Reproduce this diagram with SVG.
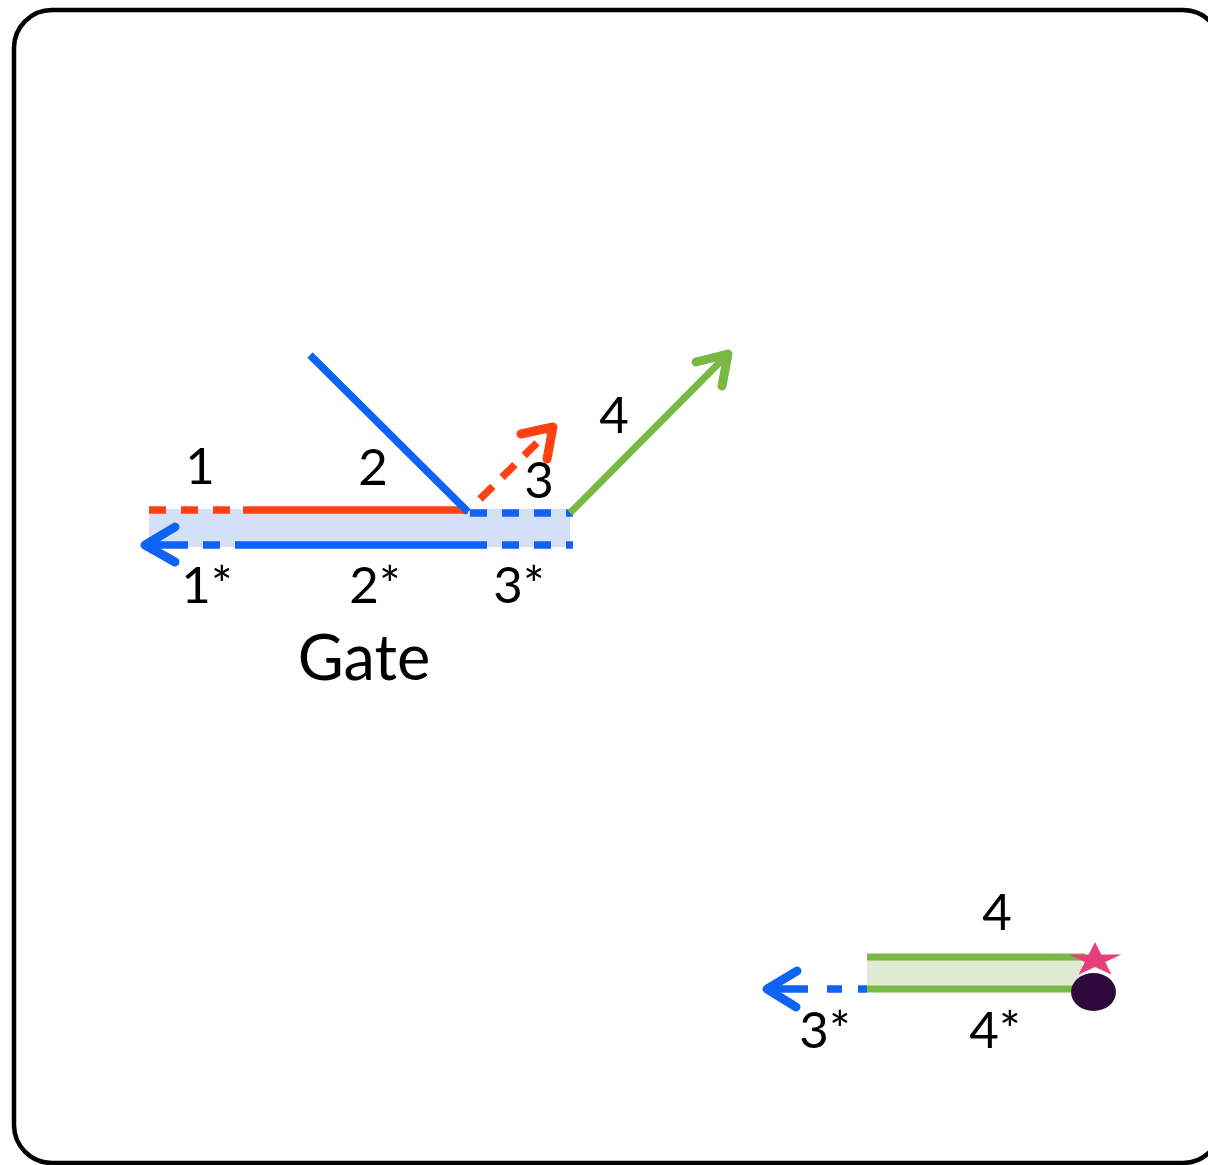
<svg xmlns="http://www.w3.org/2000/svg" width="1208" height="1165" viewBox="0 0 1208 1165">
<style>
.lbl{font-family:Lato,"Open Sans","Liberation Sans",sans-serif;font-size:51px;fill:#000;text-anchor:middle}
.big{font-size:63px}
.blue{stroke:#0e63f5;stroke-width:7.5;fill:none}
.red{stroke:#ff4013;stroke-width:7.5;fill:none}
.green{stroke:#77b942;stroke-width:7;fill:none}
.dash{stroke-dasharray:17 15}
.head{stroke-width:9;stroke-linecap:round;stroke-linejoin:round}
</style>
<rect x="14" y="10" width="1207" height="1153" rx="38" ry="38" fill="#fff" stroke="#000" stroke-width="4.5"/>
<g id="gate">
<rect x="149" y="509" width="421" height="38" fill="#d3e0f8"/>
<g id="connectors-gate">
<line class="red dash" x1="149" y1="510" x2="243" y2="510"/>
<line class="red" x1="243" y1="510" x2="468" y2="510"/>
<line class="blue dash" x1="470" y1="513" x2="573" y2="513"/>
<line class="blue" x1="235" y1="545" x2="470" y2="545"/>
<line class="blue dash" x1="470" y1="545" x2="573" y2="545"/>
<line class="blue" x1="145" y1="545" x2="188" y2="545"/>
<line class="blue" x1="203" y1="545" x2="220" y2="545"/>
<polyline class="blue head" points="175,527 145,545 175,562"/>
<line class="blue" x1="310" y1="355" x2="468" y2="512"/>
<line class="red" x1="480" y1="499" x2="552" y2="428" stroke-dasharray="18 13"/>
<polyline class="red head" points="521,434 553,427 547,459"/>
<line class="green" x1="570" y1="513" x2="728" y2="354"/>
<polyline class="green head" points="696,362 728,354 722,386"/>
</g>
<text class="lbl" x="200" y="484">1</text>
<text class="lbl" x="373" y="485">2</text>
<text class="lbl" x="539" y="498">3</text>
<text class="lbl" x="614" y="433">4</text>
<text class="lbl" x="207" y="603">1*</text>
<text class="lbl" x="375" y="603">2*</text>
<text class="lbl" x="519" y="603">3*</text>
<text class="lbl big" x="364" y="680">Gate</text>
</g>
<g id="reporter">
<rect x="867" y="957" width="215" height="32" fill="#e1ebd4"/>
<g id="connectors-reporter">
<line class="green" x1="867" y1="957" x2="1085" y2="957"/>
<line class="green" x1="867" y1="989" x2="1085" y2="989"/>
<line class="blue" x1="767" y1="989" x2="808" y2="989"/>
<line class="blue" x1="827" y1="989" x2="842" y2="989"/>
<line class="blue" x1="858" y1="989" x2="867" y2="989"/>
<polyline class="blue head" points="797,971 767,989 796,1007"/>
</g>
<polygon points="1095,942 1101.3,954.4 1121.5,954.4 1105.2,962.1 1111.4,974.6 1095,966.9 1078.6,974.6 1084.8,962.1 1068.5,954.4 1088.7,954.4" fill="#e4407a"/>
<ellipse cx="1093.5" cy="992" rx="22.5" ry="19" fill="#2d0a3b"/>
<text class="lbl" x="997" y="930">4</text>
<text class="lbl" x="825" y="1048">3*</text>
<text class="lbl" x="995" y="1048">4*</text>
</g>
</svg>
